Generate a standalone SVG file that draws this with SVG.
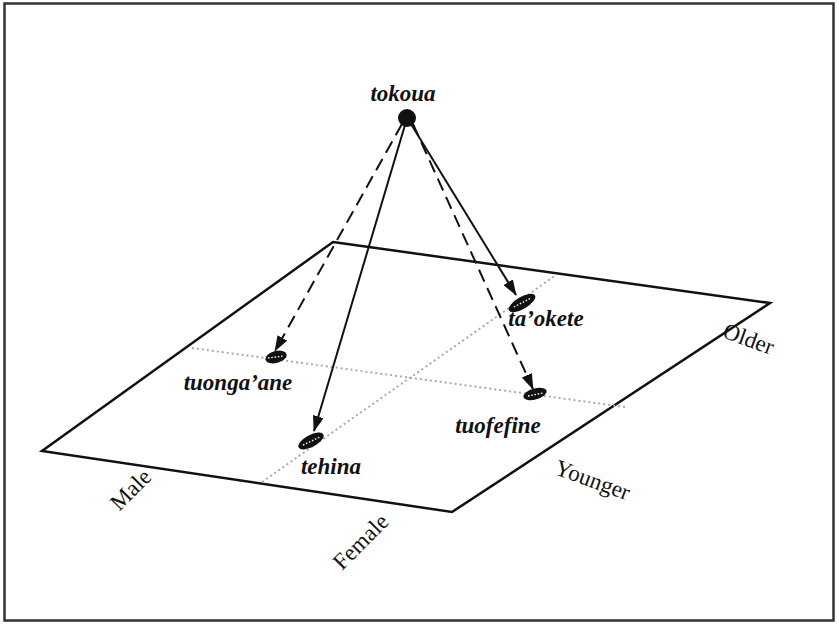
<svg xmlns="http://www.w3.org/2000/svg" width="839" height="625" viewBox="0 0 839 625">
<style>
.plane{fill:none;stroke:#111;stroke-width:2.5}
.grid{fill:none;stroke:#aaa;stroke-width:2;stroke-dasharray:2 3}
.solid{fill:none;stroke:#111;stroke-width:2}
.dash{fill:none;stroke:#111;stroke-width:2;stroke-dasharray:13 7}
.node{fill:#111}
.dots{fill:none;stroke:#fff;stroke-width:1.4;stroke-dasharray:1.5 1.8}
.lbl{font-family:"Liberation Serif",serif;font-style:italic;font-weight:bold;font-size:23px;fill:#111;text-anchor:middle}
.axis{font-family:"Liberation Serif",serif;font-size:23px;fill:#111;text-anchor:middle}
</style>
<defs>
<marker id="ah" viewBox="0 0 16 11" refX="15" refY="5.5" markerWidth="16" markerHeight="11" markerUnits="userSpaceOnUse" orient="auto">
<path d="M0,0 L16,5.5 L0,11 Z" fill="#111"/>
</marker>
</defs>
<rect x="0" y="0" width="839" height="625" fill="#fff"/>
<rect x="4.5" y="3.5" width="829" height="617" fill="none" stroke="#333" stroke-width="2.5"/>
<g id="plane">
<polygon class="plane" points="333,242 770,303 452,512 42,451"/>
<line class="grid" x1="192" y1="348" x2="625" y2="407"/>
<line class="grid" x1="262" y1="482" x2="556" y2="275"/>
</g>
<g id="connectors">
<line class="solid" x1="405" y1="125" x2="314" y2="431" marker-end="url(#ah)"/>
<line class="solid" x1="411" y1="124" x2="516" y2="295" marker-end="url(#ah)"/>
<line class="dash" x1="402" y1="124" x2="275" y2="351" marker-end="url(#ah)"/>
<line class="dash" x1="413" y1="124" x2="533" y2="389" marker-end="url(#ah)"/>
</g>
<g id="tokoua">
<ellipse class="node" cx="407" cy="118" rx="9" ry="9"/>
<text class="lbl" x="403" y="101">tokoua</text>
</g>
<g id="taokete">
<ellipse class="node" cx="522" cy="303" rx="15" ry="6" transform="rotate(-30 522 303)"/>
<line class="dots" x1="514" y1="307" x2="531" y2="298"/>
<text class="lbl" x="546" y="326">ta’okete</text>
</g>
<g id="tuongaane">
<ellipse class="node" cx="276" cy="357" rx="11" ry="6" transform="rotate(-15 276 357)"/>
<line class="dots" x1="268" y1="358" x2="284" y2="356"/>
<text class="lbl" x="238" y="390">tuonga’ane</text>
</g>
<g id="tehina">
<ellipse class="node" cx="311" cy="441" rx="14" ry="6" transform="rotate(-28 311 441)"/>
<line class="dots" x1="303" y1="445" x2="320" y2="437"/>
<text class="lbl" x="331" y="474">tehina</text>
</g>
<g id="tuofefine">
<ellipse class="node" cx="535" cy="394" rx="12" ry="5.5" transform="rotate(-15 535 394)"/>
<line class="dots" x1="528" y1="396" x2="543" y2="393"/>
<text class="lbl" x="498" y="433">tuofefine</text>
</g>
<g id="labels">
<text class="axis" transform="translate(136,495) rotate(-45)">Male</text>
<text class="axis" transform="translate(366,547) rotate(-45)">Female</text>
<text class="axis" transform="translate(590,487) rotate(20)">Younger</text>
<text class="axis" transform="translate(746,346) rotate(20)">Older</text>
</g>
</svg>
